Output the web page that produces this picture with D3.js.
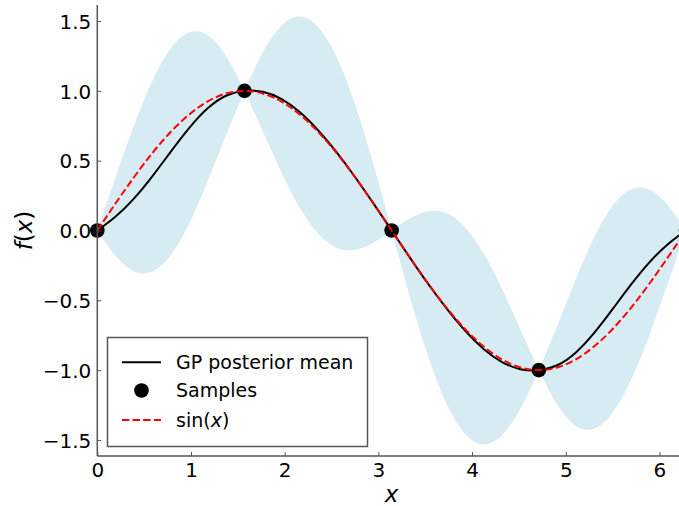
<!DOCTYPE html>
<html>
<head>
<meta charset="utf-8">
<script src="https://cdn.jsdelivr.net/npm/d3@7"></script>
<style>
  html, body { margin: 0; padding: 0; background: #fff; }
  svg { display: block; font-family: "DejaVu Sans", sans-serif; }
</style>
</head>
<body>
<svg id="chart" width="679" height="506"></svg>
<script>
// Evaluation grid (steps of pi/16 over [0, 2*pi])
const xs = [0.000, 0.196, 0.393, 0.589, 0.785, 0.982, 1.178, 1.374, 1.571,
            1.767, 1.963, 2.160, 2.356, 2.553, 2.749, 2.945, 3.142,
            3.338, 3.534, 3.731, 3.927, 4.123, 4.320, 4.516, 4.712,
            4.909, 5.105, 5.301, 5.498, 5.694, 5.890, 6.087, 6.283];

// GP posterior mean
const meanVals = [0.000, 0.100, 0.230, 0.390, 0.565, 0.735, 0.875, 0.965, 1.000,
                  0.993, 0.942, 0.848, 0.718, 0.561, 0.385, 0.196, 0.000,
                  -0.196, -0.385, -0.561, -0.718, -0.848, -0.942, -0.993, -1.000,
                  -0.965, -0.875, -0.735, -0.565, -0.390, -0.230, -0.100, 0.000];

// Upper / lower edge of the confidence band
const upperVals = [0.000, 0.383, 0.753, 1.074, 1.305, 1.419, 1.398, 1.248, 1.000,
                   1.276, 1.465, 1.532, 1.458, 1.245, 0.908, 0.479, 0.000,
                   0.087, 0.138, 0.123, 0.022, -0.164, -0.419, -0.710, -1.000,
                   -0.682, -0.352, -0.051, 0.175, 0.294, 0.293, 0.183, 0.000];
const lowerVals = [0.000, -0.183, -0.293, -0.294, -0.175, 0.051, 0.352, 0.682, 1.000,
                   0.710, 0.419, 0.164, -0.022, -0.123, -0.138, -0.087, 0.000,
                   -0.479, -0.908, -1.245, -1.458, -1.532, -1.465, -1.276, -1.000,
                   -1.248, -1.398, -1.419, -1.305, -1.074, -0.753, -0.383, 0.000];

// True function sin(x) on the same grid
const sinVals = [0.000, 0.195, 0.383, 0.556, 0.707, 0.831, 0.924, 0.981, 1.000,
                 0.981, 0.924, 0.831, 0.707, 0.556, 0.383, 0.195, 0.000,
                 -0.195, -0.383, -0.556, -0.707, -0.831, -0.924, -0.981, -1.000,
                 -0.981, -0.924, -0.831, -0.707, -0.556, -0.383, -0.195, 0.000];

// Observed samples
const sampleX = [0, 1.5708, 3.1416, 4.7124, 6.2832];
const sampleY = [0, 1, 0, -1, 0];

// Grid indices of the samples (band pinches there)
const segBreaks = [0, 8, 16, 24, 32];

const xTicks = [0, 1, 2, 3, 4, 5, 6];
const yTicks = [-1.5, -1.0, -0.5, 0.0, 0.5, 1.0, 1.5];

const legendLabels = ["GP posterior mean", "Samples", "sin"];

const svg = d3.select("#chart");
const x = d3.scaleLinear().domain([0, 6.2832]).range([97.3, 686]);
const y = d3.scaleLinear().domain([-1.615, 1.615]).range([456, 5]);

const grid = xs.map((v, i) => ({ x: v, m: meanVals[i], u: upperVals[i], l: lowerVals[i], s: sinVals[i] }));

// Confidence band, one piece per interval between samples
const area = d3.area()
  .x(d => x(d.x)).y0(d => y(d.l)).y1(d => y(d.u))
  .curve(d3.curveNatural);
for (let k = 0; k < segBreaks.length - 1; k++) {
  svg.append("path")
    .datum(grid.slice(segBreaks[k], segBreaks[k + 1] + 1))
    .attr("d", area)
    .attr("fill", "#add8e6")
    .attr("fill-opacity", 0.5)
    .attr("stroke", "none");
}

// Posterior mean
svg.append("path")
  .datum(grid)
  .attr("d", d3.line().x(d => x(d.x)).y(d => y(d.m)).curve(d3.curveNatural))
  .attr("fill", "none").attr("stroke", "#000").attr("stroke-width", 2);

// Samples
svg.append("g").selectAll("circle")
  .data(sampleX.map((v, i) => ({ x: v, y: sampleY[i] })))
  .join("circle")
  .attr("cx", d => x(d.x)).attr("cy", d => y(d.y)).attr("r", 7.3)
  .attr("fill", "#000");

// sin(x)
svg.append("path")
  .datum(grid)
  .attr("d", d3.line().x(d => x(d.x)).y(d => y(d.s)).curve(d3.curveNatural))
  .attr("fill", "none").attr("stroke", "#ff0000").attr("stroke-width", 2)
  .attr("stroke-dasharray", "7.4,3.2");

// Axes
const axisColor = "#555";
const yAxis = svg.append("g").attr("transform", `translate(${x(0)},0)`)
  .call(d3.axisLeft(y).tickValues(yTicks).tickFormat(d3.format(".1f"))
    .tickSizeInner(-4).tickSizeOuter(0).tickPadding(6));
const xAxis = svg.append("g").attr("transform", `translate(0,${y(-1.615)})`)
  .call(d3.axisBottom(x).tickValues(xTicks).tickFormat(d3.format("d"))
    .tickSizeInner(-4).tickSizeOuter(0).tickPadding(6.5));
[xAxis, yAxis].forEach(g => {
  g.select(".domain").remove();
  g.selectAll(".tick line").attr("stroke", axisColor).attr("stroke-width", 1);
  g.selectAll(".tick text").attr("fill", "#000").attr("font-size", 20)
    .attr("font-family", "DejaVu Sans");
});
yAxis.selectAll(".tick text").attr("dy", "0.36em");

// Spines (left and bottom)
svg.append("line").attr("x1", x(0)).attr("x2", x(0)).attr("y1", y(1.615)).attr("y2", y(-1.615))
  .attr("stroke", axisColor).attr("stroke-width", 1.5);
svg.append("line").attr("x1", x(0)).attr("x2", 686).attr("y1", y(-1.615)).attr("y2", y(-1.615))
  .attr("stroke", axisColor).attr("stroke-width", 1.5);

// Axis labels
const xl = svg.append("text").attr("x", (x(0) + 686) / 2).attr("y", 502)
  .attr("text-anchor", "middle").attr("font-size", 23);
xl.append("tspan").attr("font-style", "italic").text("x");

const yl = svg.append("text")
  .attr("transform", "translate(32,230.5) rotate(-90)")
  .attr("text-anchor", "middle").attr("font-size", 23);
yl.append("tspan").attr("font-style", "italic").text("f");
yl.append("tspan").text("(");
yl.append("tspan").attr("font-style", "italic").text("x");
yl.append("tspan").text(")");

// Legend
const lg = svg.append("g");
lg.append("rect").attr("x", 107.5).attr("y", 337.5).attr("width", 260).attr("height", 109)
  .attr("fill", "#fff").attr("stroke", axisColor).attr("stroke-width", 1.5);
const rows = [362.3, 390.5, 420];
lg.append("line").attr("x1", 122).attr("x2", 161).attr("y1", rows[0]).attr("y2", rows[0])
  .attr("stroke", "#000").attr("stroke-width", 2);
lg.append("circle").attr("cx", 141.5).attr("cy", rows[1]).attr("r", 7.3).attr("fill", "#000");
lg.append("line").attr("x1", 122).attr("x2", 161).attr("y1", rows[2]).attr("y2", rows[2])
  .attr("stroke", "#ff0000").attr("stroke-width", 2).attr("stroke-dasharray", "7.4,3.2");
legendLabels.forEach((t, i) => {
  const tx = lg.append("text").attr("x", 176).attr("y", rows[i]).attr("dy", "0.35em")
    .attr("font-size", 19).attr("fill", "#000");
  tx.append("tspan").text(t);
  if (i === 2) {
    tx.append("tspan").text("(");
    tx.append("tspan").attr("font-style", "italic").text("x");
    tx.append("tspan").text(")");
  }
});
</script>
</body>
</html>
